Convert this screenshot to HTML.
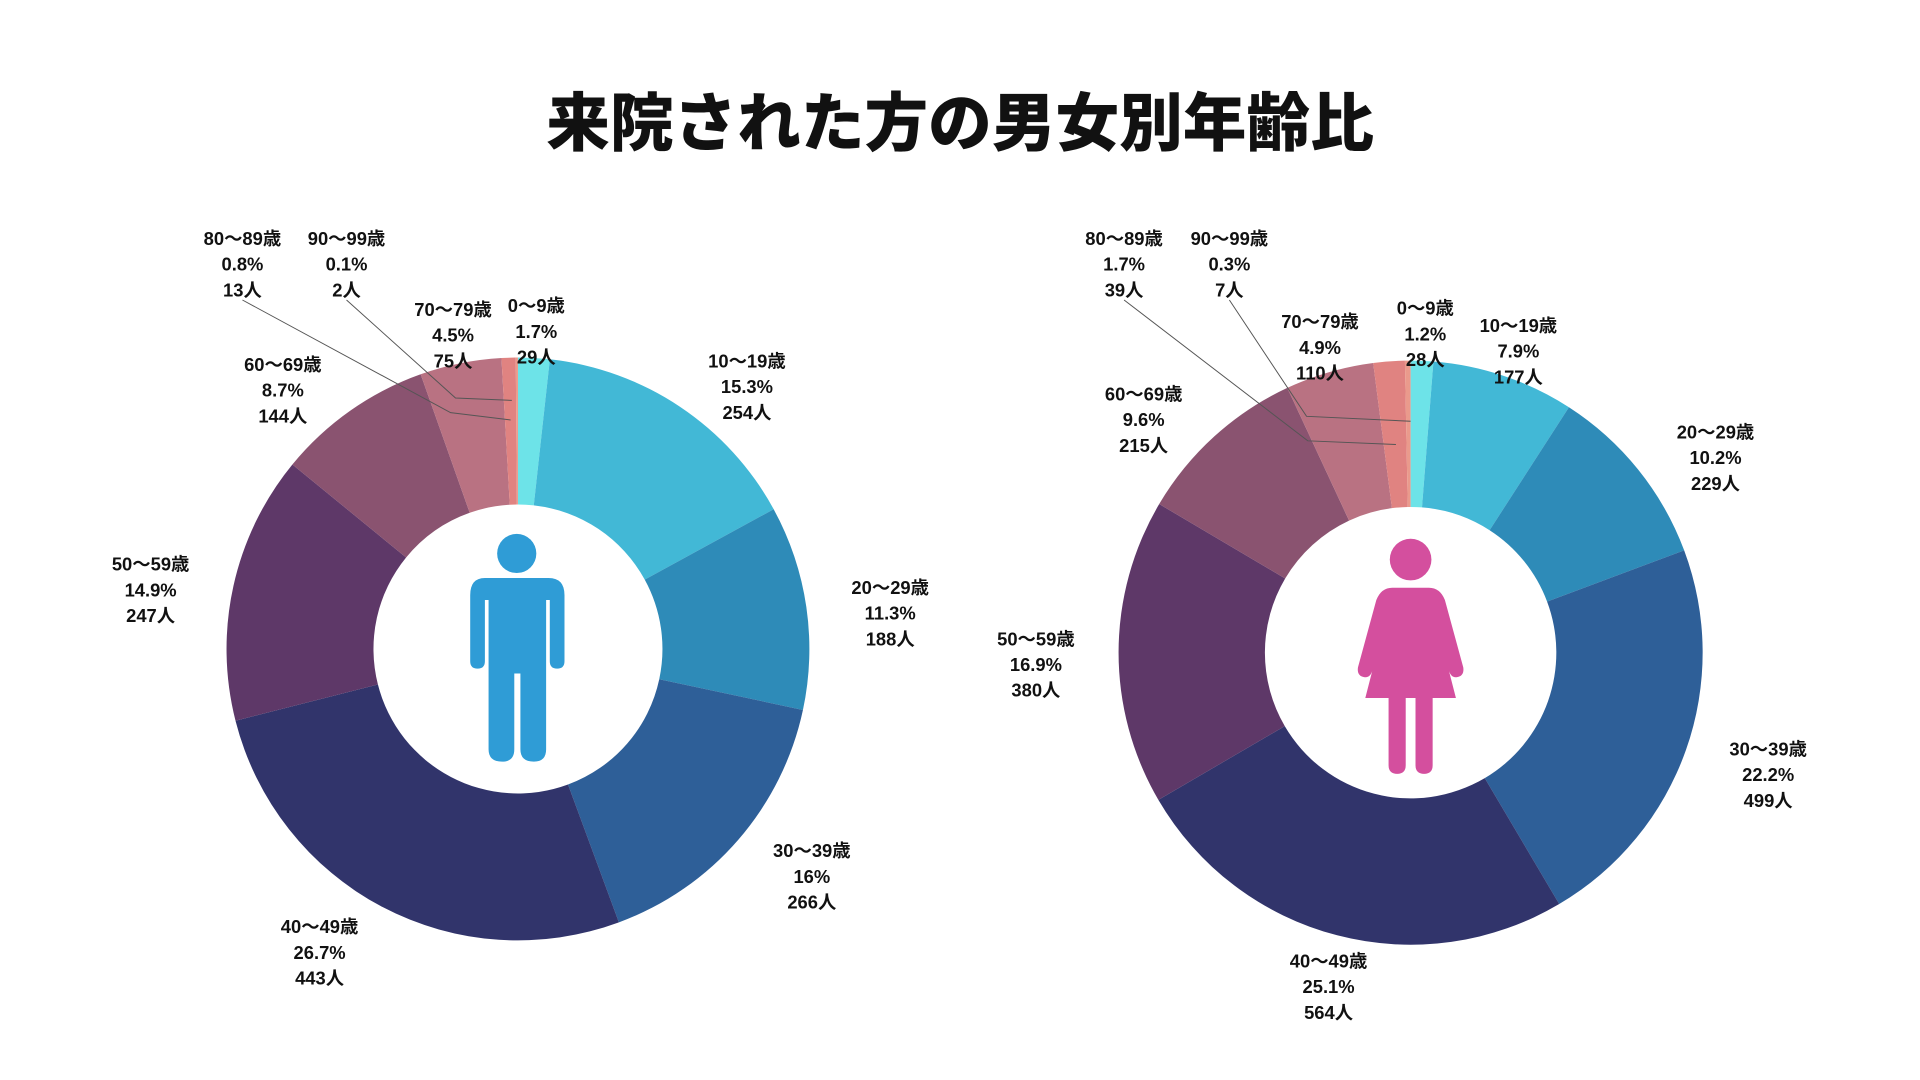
<!DOCTYPE html>
<html><head><meta charset="utf-8"><style>
html,body{margin:0;padding:0;background:#fff;}
svg{display:block;}
text{font-family:"Liberation Sans","Noto Sans CJK JP",sans-serif;font-weight:bold;fill:#111;}
</style></head><body>
<svg id="chart" width="1920" height="1080" viewBox="0 0 1568 882" xmlns="http://www.w3.org/2000/svg">
<text x="784" y="119" text-anchor="middle" font-size="52" style="font-weight:900">来院された方の男女別年齢比</text>
<g id="male"></g>
<g id="female"></g>
<g id="labels"></g>
<g fill="none" stroke="#555" stroke-width="0.8">
<polyline points="198,245 368,337 417,343"/>
<polyline points="283,245 372,325 418,327"/>
<polyline points="918,245 1068,360 1140,363"/>
<polyline points="1004,245 1067,340 1152,344"/>
</g>
<g fill="#2f9cd6">
<circle cx="422" cy="452" r="16"/>
<path d="M396,472 H448 Q461,472 461,486 V540 Q461,546 455,546 Q449,546 449,540 V490 H446 V612 Q446,622 436,622 Q425,622 425,612 V550 H420 V612 Q420,622 410,622 Q399,622 399,612 V490 H396 V540 Q396,546 390,546 Q384,546 384,540 V486 Q384,472 396,472 Z"/>
</g>
<g fill="#d44f9e">
<circle cx="1152" cy="457" r="17"/>
<path d="M1137,480 H1167 Q1176,480 1180,490 L1195,545 Q1196,552 1190,553 Q1185,554 1183,547 L1171,500 L1189,570 H1170 V625 Q1170,632 1163,632 Q1156,632 1156,625 V570 H1148 V625 Q1148,632 1141,632 Q1134,632 1134,625 V570 H1115 L1133,500 L1121,547 Q1119,554 1114,553 Q1108,552 1109,545 L1124,490 Q1128,480 1137,480 Z"/>
</g>
</svg>
<script>
const categories = ["0～9歳","10～19歳","20～29歳","30～39歳","40～49歳","50～59歳","60～69歳","70～79歳","80～89歳","90～99歳"];
const maleCounts = [29,254,188,266,443,247,144,75,13,2];
const malePct = ["1.7%","15.3%","11.3%","16%","26.7%","14.9%","8.7%","4.5%","0.8%","0.1%"];
const femaleCounts = [28,177,229,499,564,380,215,110,39,7];
const femalePct = ["1.2%","7.9%","10.2%","22.2%","25.1%","16.9%","9.6%","4.9%","1.7%","0.3%"];
const colors = ["#6de3e8","#42b8d6","#2e8bb8","#2e5f98","#31346b","#5e3868","#8a5370","#b97282","#e08381","#ea9a8c"];
const NS = "http://www.w3.org/2000/svg";
function arcPath(cx,cy,R,r,a0,a1){
  const p=(rad,a)=>[cx+rad*Math.sin(a),cy-rad*Math.cos(a)];
  const large=(a1-a0)>Math.PI?1:0;
  const [x0,y0]=p(R,a0),[x1,y1]=p(R,a1),[x2,y2]=p(r,a1),[x3,y3]=p(r,a0);
  return `M${x0},${y0} A${R},${R} 0 ${large} 1 ${x1},${y1} L${x2},${y2} A${r},${r} 0 ${large} 0 ${x3},${y3} Z`;
}
function donut(gid,vals,cx,cy,R,r,prefix){
  const g=document.getElementById(gid);
  const tot=vals.reduce((a,b)=>a+b,0);
  let a=0;
  vals.forEach((v,i)=>{
    const a1=a+v/tot*2*Math.PI;
    const el=document.createElementNS(NS,"path");
    el.setAttribute("d",arcPath(cx,cy,R,r,a,a1));
    el.setAttribute("fill",colors[i]);
    
    
    g.appendChild(el);
    a=a1;
  });
}
donut("male",maleCounts,423,530,238,118,"male");
donut("female",femaleCounts,1152,533,238.5,119,"female");
const maleLabelPos=[[438,250],[610,295],[727,480],[663,695],[261,757],[123,461],[231,298],[370,253],[198,195],[283,195]];
const femaleLabelPos=[[1164,252],[1240,266],[1401,353],[1444,612],[1085,785],[846,522],[934,322],[1078,263],[918,195],[1004,195]];
const lg=document.getElementById("labels");
function labels(pos,pct,cnt,prefix){
  pos.forEach((p,i)=>{
    const t=document.createElementNS(NS,"text");
    t.setAttribute("text-anchor","middle");
    t.setAttribute("font-size","15");
    
    
    [categories[i],pct[i],cnt[i]+"人"].forEach((s,j)=>{
      const ts=document.createElementNS(NS,"tspan");
      ts.setAttribute("x",p[0]);ts.setAttribute("y",p[1]+5+j*21);
      ts.textContent=s;t.appendChild(ts);
    });
    lg.appendChild(t);
  });
}
labels(maleLabelPos,malePct,maleCounts,"male");
labels(femaleLabelPos,femalePct,femaleCounts,"female");
</script>
</body></html>
